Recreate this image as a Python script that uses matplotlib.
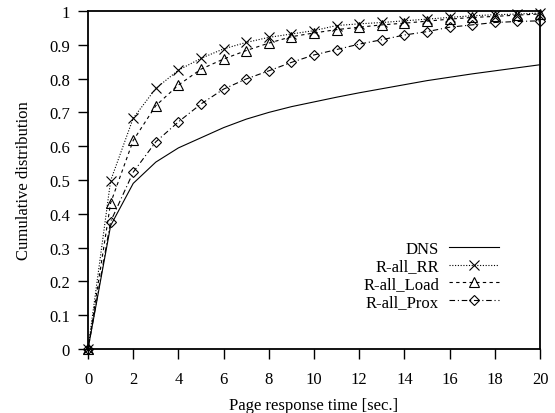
import matplotlib
matplotlib.use("Agg")
import matplotlib.pyplot as plt

x = list(range(0, 21))
dns = [0.0, 0.365, 0.49, 0.553, 0.595, 0.625, 0.655, 0.68, 0.70, 0.717, 0.731,
       0.745, 0.758, 0.770, 0.782, 0.794, 0.804, 0.814, 0.823, 0.832, 0.841]
rr = [0.0, 0.498, 0.683, 0.771, 0.825, 0.86, 0.888, 0.907, 0.922, 0.932, 0.942,
      0.957, 0.962, 0.966, 0.971, 0.976, 0.981, 0.986, 0.989, 0.991, 0.994]
load = [0.0, 0.432, 0.617, 0.72, 0.781, 0.828, 0.858, 0.883, 0.905, 0.924, 0.935,
        0.945, 0.952, 0.959, 0.964, 0.970, 0.976, 0.981, 0.984, 0.988, 0.991]
prox = [0.0, 0.377, 0.523, 0.613, 0.672, 0.725, 0.769, 0.799, 0.823, 0.848, 0.870,
        0.886, 0.902, 0.915, 0.929, 0.939, 0.952, 0.959, 0.966, 0.969, 0.971]

labels = ["DNS", "R-all_RR", "R-all_Load", "R-all_Prox"]
xticks = list(range(0, 21, 2))
yticks = [0, 0.1, 0.2, 0.3, 0.4, 0.5, 0.6, 0.7, 0.8, 0.9, 1]
ytick_labels = ["0", "0.1", "0.2", "0.3", "0.4", "0.5", "0.6", "0.7", "0.8", "0.9", "1"]

plt.rcParams['font.family'] = ['Liberation Serif']
plt.rcParams['font.size'] = 12

fig = plt.figure(figsize=(5.55, 4.14), dpi=100)
ax = fig.add_axes([0.1586, 0.1546, 0.973 - 0.1586, 0.971 - 0.1546])

lw = 0.8
ax.plot(x, dns, color='black', lw=lw, linestyle='-', label=labels[0], clip_on=False)
ax.plot(x, rr, color='black', lw=lw, linestyle=(0, (1, 1.5)), marker='x', ms=7.5,
        mew=0.8, label=labels[1], clip_on=False)
ax.plot(x, load, color='black', lw=lw, linestyle=(0, (3, 3)), marker='^', ms=7.5,
        mfc='none', mew=0.8, label=labels[2], clip_on=False)
ax.plot(x, prox, color='black', lw=lw, linestyle=(0, (5, 2.5, 1, 2.5)), marker='D', ms=5.5,
        mfc='none', mew=0.8, label=labels[3], clip_on=False)

ax.set_xlim(0, 20)
ax.set_ylim(0, 1)
ax.set_xticks(xticks)
ax.set_yticks(yticks)
ax.set_yticklabels(ytick_labels)
ax.tick_params(direction='out', length=7, width=1.0, top=False, right=False)
ax.tick_params(axis='y', pad=6)
ax.tick_params(axis='x', pad=9)
for s in ax.spines.values():
    s.set_linewidth(1.3)

ax.set_xlabel("Page response time [sec.]", labelpad=7)
ax.set_ylabel("Cumulative distribution", labelpad=12)

leg = ax.legend(loc='upper left', bbox_to_anchor=(0.59, 0.345), markerfirst=False,
                frameon=False, handlelength=3.0, handletextpad=0.6,
                labelspacing=0.1, borderpad=0, numpoints=1)

fig.savefig("out.png", dpi=100)
